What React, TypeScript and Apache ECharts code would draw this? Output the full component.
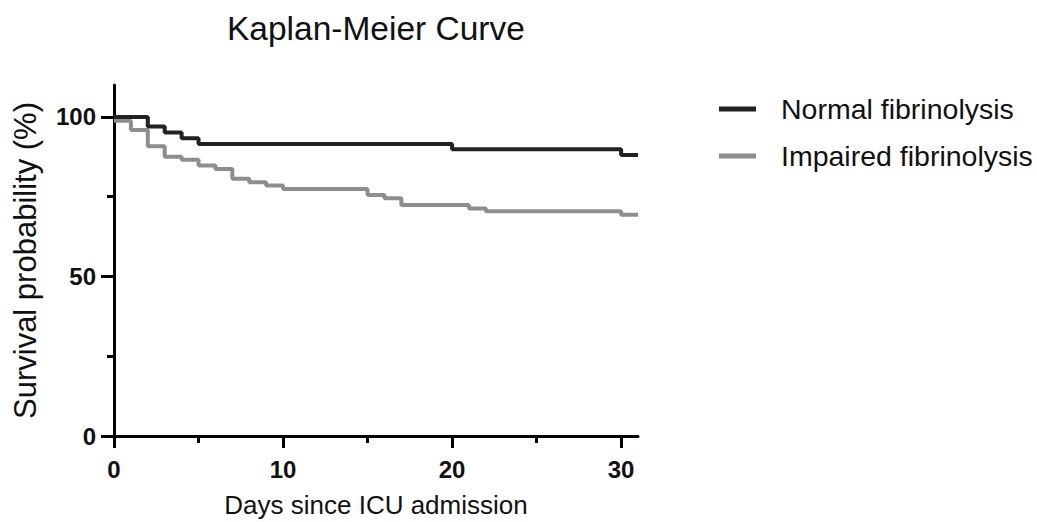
import React, { useEffect, useRef } from "react";
import * as echarts from "echarts";

const normalDays = [0, 2, 3, 4, 5, 20, 30, 31];
const normalSurvival = [100, 97.0, 95.1, 93.3, 91.5, 89.9, 88.1, 88.1];
const impairedDays = [0, 1, 2, 3, 4, 5, 6, 7, 8, 9, 10, 15, 16, 17, 21, 22, 30, 31];
const impairedSurvival = [98.8, 95.9, 90.8, 87.5, 86.6, 84.8, 83.7, 80.6, 79.5, 78.5, 77.4, 75.5, 74.5, 72.4, 71.3, 70.4, 69.3, 69.3];
const xMajorTicks = [0, 10, 20, 30];
const xMinorTicks = [5, 15, 25];
const yMajorTicks = [0, 50, 100];
const yMinorTicks = [25, 75];

const BLACK = "#222222";
const GRAY = "#8e8e8e";
const FONT = "Liberation Sans, Arial, sans-serif";

export default function App() {
  const ref = useRef<HTMLDivElement>(null);
  useEffect(() => {
    document.body.style.margin = "0";
    const chart = echarts.init(ref.current!, null, { renderer: "svg" });
    const tickLabel = { fontFamily: FONT, fontWeight: "bold" as const, fontSize: 24, color: "#111" };
    const rect = { left: 114, top: 85, width: 524, height: 351, outerBoundsMode: "none", containLabel: false };
    const axisLine = { show: true, lineStyle: { color: "#000", width: 3 } };
    chart.setOption({
      animation: false,
      title: {
        text: "Kaplan-Meier Curve",
        left: 222,
        top: 6,
        textStyle: { fontFamily: FONT, fontWeight: "normal", fontSize: 33.5, color: "#111" },
      },
      legend: {
        orient: "vertical",
        left: 714,
        top: 88,
        icon: "rect",
        itemWidth: 37,
        itemHeight: 5,
        itemGap: 15,
        data: ["Normal fibrinolysis", "Impaired fibrinolysis"],
        textStyle: { fontFamily: FONT, fontSize: 28.5, color: "#111", lineHeight: 32, padding: [0, 0, 0, 20] },
      },
      grid: [rect, { ...rect }],
      xAxis: [
        {
          type: "value",
          gridIndex: 0,
          min: 0,
          max: 31,
          position: "bottom",
          name: "Days since ICU admission",
          nameLocation: "middle",
          nameGap: 56,
          nameTextStyle: { fontFamily: FONT, fontSize: 26, color: "#111" },
          axisLine,
          axisTick: { show: true, length: 12, lineStyle: { color: "#000", width: 3 }, customValues: xMajorTicks },
          axisLabel: { ...tickLabel, margin: 21, customValues: xMajorTicks },
          splitLine: { show: false },
        },
        {
          type: "value",
          gridIndex: 1,
          min: 0,
          max: 31,
          position: "bottom",
          axisLine: { show: false },
          axisTick: { show: true, length: 7, lineStyle: { color: "#000", width: 3 }, customValues: xMinorTicks },
          axisLabel: { show: false },
          splitLine: { show: false },
        },
      ],
      yAxis: [
        {
          type: "value",
          gridIndex: 0,
          min: 0,
          max: 110,
          position: "left",
          name: "Survival probability (%)",
          nameLocation: "middle",
          nameRotate: 90,
          nameGap: 73,
          nameTextStyle: { fontFamily: FONT, fontSize: 31, color: "#111" },
          axisLine,
          axisTick: { show: true, length: 13, lineStyle: { color: "#000", width: 3 }, customValues: yMajorTicks },
          axisLabel: { ...tickLabel, margin: 18, customValues: yMajorTicks },
          splitLine: { show: false },
        },
        {
          type: "value",
          gridIndex: 1,
          min: 0,
          max: 110,
          position: "left",
          axisLine: { show: false },
          axisTick: { show: true, length: 7, lineStyle: { color: "#000", width: 3 }, customValues: yMinorTicks },
          axisLabel: { show: false },
          splitLine: { show: false },
        },
      ],
      series: [
        {
          name: "Normal fibrinolysis",
          type: "line",
          step: "end",
          z: 3,
          symbol: "none",
          color: BLACK,
          lineStyle: { color: BLACK, width: 4 },
          data: normalDays.map((d, i) => [d, normalSurvival[i]]),
        },
        {
          name: "Impaired fibrinolysis",
          type: "line",
          step: "end",
          z: 2,
          symbol: "none",
          color: GRAY,
          lineStyle: { color: GRAY, width: 4 },
          data: impairedDays.map((d, i) => [d, impairedSurvival[i]]),
        },
      ],
    });
    return () => chart.dispose();
  }, []);
  return <div ref={ref} style={{ width: 1037, height: 522 }} />;
}
